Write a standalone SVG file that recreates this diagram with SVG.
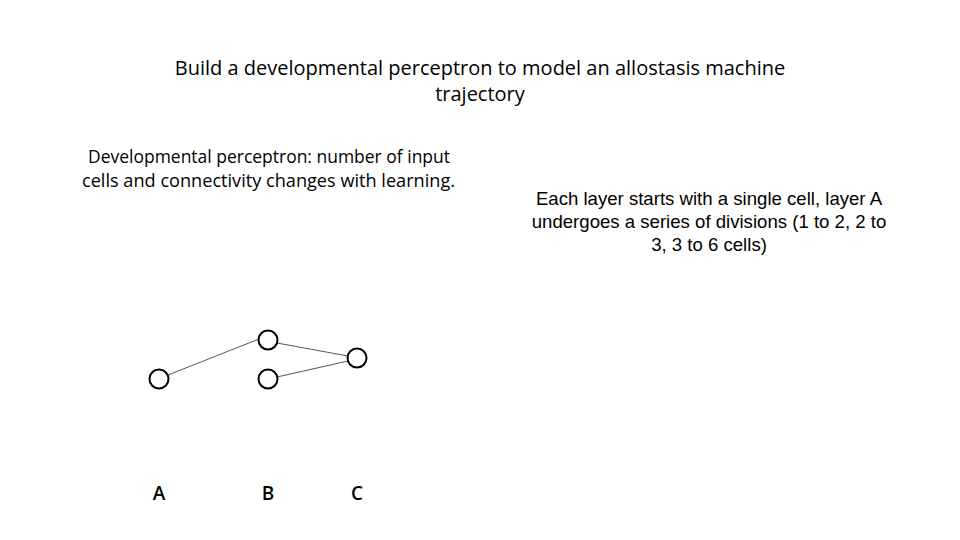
<svg xmlns="http://www.w3.org/2000/svg" width="960" height="540" viewBox="0 0 960 540">
<style>
.t{font-family:"Open Sans","Noto Sans",sans-serif;fill:#000;text-anchor:middle}
.a{font-family:"Liberation Sans",Arial,sans-serif;fill:#000;text-anchor:middle;font-size:18.6px}
.n{fill:#fff;stroke:#000;stroke-width:2}
.e{stroke:#555;stroke-width:1;fill:none}
.l{font-family:"Open Sans","Noto Sans",sans-serif;font-size:19px;font-weight:600;text-anchor:middle}
</style>
<rect width="960" height="540" fill="#fff"/>
<text class="t" font-size="20" x="480" y="75">Build a developmental perceptron to model an allostasis machine</text>
<text class="t" font-size="20" x="480" y="101">trajectory</text>
<text class="t" font-size="17.6" x="269" y="163" textLength="362" lengthAdjust="spacingAndGlyphs">Developmental perceptron: number of input</text>
<text class="t" font-size="17.6" x="268.5" y="187" textLength="373" lengthAdjust="spacingAndGlyphs">cells and connectivity changes with learning.</text>
<text class="a" x="709" y="205">Each layer starts with a single cell, layer A</text>
<text class="a" x="709" y="228">undergoes a series of divisions (1 to 2, 2 to</text>
<text class="a" x="709" y="251">3, 3 to 6 cells)</text>
<g id="edges">
<line class="e" x1="168" y1="375" x2="259" y2="339"/>
<line class="e" x1="277" y1="343" x2="348" y2="356"/>
<line class="e" x1="277" y1="377" x2="348" y2="361"/>
</g>
<g id="nA"><circle class="n" cx="159" cy="379" r="9.5"/></g>
<g id="nB1"><circle class="n" cx="268" cy="340" r="9.5"/></g>
<g id="nB2"><circle class="n" cx="268" cy="379" r="9.5"/></g>
<g id="nC"><circle class="n" cx="357" cy="358" r="9.5"/></g>
<text class="l" x="159" y="500">A</text>
<text class="l" x="268" y="500">B</text>
<text class="l" x="357" y="500">C</text>
</svg>
